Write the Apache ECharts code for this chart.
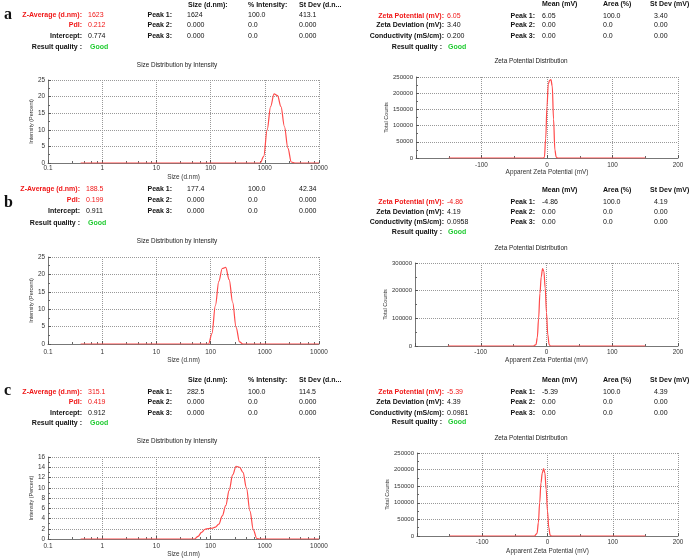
<!DOCTYPE html>
<html><head><meta charset="utf-8">
<script src="https://cdn.jsdelivr.net/npm/echarts@6/dist/echarts.min.js"></script>
<style>html,body{margin:0;padding:0;background:#fff}#c{width:693px;height:558px}</style>
</head><body><div id="c"></div>
<script>
// ---------- data ----------
const sizeA = [[0.4,0],[824.5,0],[955,2],[1106,10],[1280,17],[1482,20.8],[1716,20.3],[1988,17],[2302,11],[2665,4.5],[3086,0.3],[3574,0],[10000,0]];
const sizeB = [[0.4,0],[91.4,0],[105.8,3],[122.5,11],[141.8,18],[164.2,21.7],[190.1,22],[220.2,18.5],[255,12],[295.3,4.8],[342,0.6],[396,0],[10000,0]];
const sizeC = [[0.4,0],[50.7,0],[58.7,0.5],[68,1.3],[78.8,1.9],[91.4,2.05],[105.8,2.1],[122.5,2.3],[141.8,2.9],[164.2,4.5],[190.1,6.5],[220.2,9.5],[255,12.5],[295.3,14.2],[342,14],[396,13],[458.5,10],[531,5.5],[615,1.8],[712,0.1],[824.5,0],[10000,0]];
const zetaA = [[-150,0],[-6,0],[-4,2000],[-2,60000],[0,160000],[2,228000],[4,240000],[6,242000],[8,222000],[10,120000],[12,25000],[14,3000],[16,0],[150,0]];
const zetaB = [[-150,0],[-20,0],[-16,5000],[-14,30000],[-12,100000],[-10,190000],[-8,250000],[-6,280000],[-4,270000],[-2,210000],[0,120000],[2,40000],[4,5000],[6,0],[150,0]];
const zetaC = [[-150,0],[-20,0],[-16,8000],[-14,40000],[-12,100000],[-10,160000],[-8,190000],[-6,203000],[-4,190000],[-2,140000],[0,75000],[2,25000],[4,3000],[6,0],[150,0]];

const sizeYMax = [25, 25, 16];
const sizeYStep = [5, 5, 2];
const zetaYMax = [250000, 300000, 250000];
const zetaYStep = [50000, 100000, 50000];

const rowLetters = ['a', 'b', 'c'];
const sizeLabels = ['Z-Average (d.nm):', 'PdI:', 'Intercept:', 'Result quality :'];
const sizeHeaders = ['Size (d.nm):', '% Intensity:', 'St Dev (d.n...'];
const peakLabels = ['Peak 1:', 'Peak 2:', 'Peak 3:'];
const sizeValuesA = ['1623', '0.212', '0.774', 'Good'];
const sizeValuesB = ['188.5', '0.199', '0.911', 'Good'];
const sizeValuesC = ['315.1', '0.419', '0.912', 'Good'];
const sizePeaksA = [['1624', '100.0', '413.1'], ['0.000', '0.0', '0.000'], ['0.000', '0.0', '0.000']];
const sizePeaksB = [['177.4', '100.0', '42.34'], ['0.000', '0.0', '0.000'], ['0.000', '0.0', '0.000']];
const sizePeaksC = [['282.5', '100.0', '114.5'], ['0.000', '0.0', '0.000'], ['0.000', '0.0', '0.000']];
const zetaLabels = ['Zeta Potential (mV):', 'Zeta Deviation (mV):', 'Conductivity (mS/cm):', 'Result quality :'];
const zetaHeaders = ['Mean (mV)', 'Area (%)', 'St Dev (mV)'];
const zetaValuesA = ['6.05', '3.40', '0.200', 'Good'];
const zetaValuesB = ['-4.86', '4.19', '0.0958', 'Good'];
const zetaValuesC = ['-5.39', '4.39', '0.0981', 'Good'];
const zetaPeaksA = [['6.05', '100.0', '3.40'], ['0.00', '0.0', '0.00'], ['0.00', '0.0', '0.00']];
const zetaPeaksB = [['-4.86', '100.0', '4.19'], ['0.00', '0.0', '0.00'], ['0.00', '0.0', '0.00']];
const zetaPeaksC = [['-5.39', '100.0', '4.39'], ['0.00', '0.0', '0.00'], ['0.00', '0.0', '0.00']];

// ---------- layout ----------
const F = '"Liberation Sans", Arial, sans-serif';
const RED = '#f01818', GREEN = '#22cc33', INK = '#111', AX = '#333';
const LINE = '#ff4a4a';

const sizeGrids = [
  {left: 48, top: 80, width: 271, height: 83},
  {left: 48, top: 257, width: 271, height: 87},
  {left: 48, top: 457, width: 271, height: 83}
];
const zetaGrids = [
  {left: 416, top: 77, width: 262, height: 81},
  {left: 415, top: 263, width: 263, height: 83},
  {left: 417, top: 453, width: 261, height: 83}
];
const sizeLabMargin = [2, 5, 4], zetaLabMargin = [4, 3, 3];
const sizeNameGap = [11, 13, 12], zetaNameGap = [11, 11, 12];
const sizeTitleY = [65, 241, 441], zetaTitleY = [61, 248, 438];

const leftTab = [
  {letterY: 14.5, headY: 5, rows: [15, 25, 36, 47.5], lx: 82, vx: 88},
  {letterY: 202.5, headY: null, rows: [189, 200, 211, 223], lx: 80, vx: 86},
  {letterY: 390.5, headY: 380, rows: [392, 402, 413, 423], lx: 82, vx: 88}
];
const rightTab = [
  {headY: 4.5, rows: [16, 25.5, 36, 47]},
  {headY: 190, rows: [202, 212, 222, 232]},
  {headY: 380, rows: [392, 402, 413, 422]}
];

const sizeData = [sizeA, sizeB, sizeC];
const zetaData = [zetaA, zetaB, zetaC];
const sizeVals = [sizeValuesA, sizeValuesB, sizeValuesC];
const sizePeaks = [sizePeaksA, sizePeaksB, sizePeaksC];
const zetaVals = [zetaValuesA, zetaValuesB, zetaValuesC];
const zetaPeaks = [zetaPeaksA, zetaPeaksB, zetaPeaksC];

function T(text, x, y, o) {
  o = o || {};
  return {type: 'text', x: x, y: y, silent: true, style: {
    text: text, fill: o.fill || INK, align: o.align || 'left', verticalAlign: 'middle',
    font: (o.bold === false ? '' : 'bold ') + (o.size || 7) + 'px ' + (o.family || F)
  }};
}

const graphics = [];
for (let r = 0; r < 3; r++) {
  const L = leftTab[r], R = rightTab[r];
  graphics.push(T(rowLetters[r], 4, L.letterY, {size: 16, family: '"Liberation Serif", "Times New Roman", serif'}));
  sizeLabels.forEach((lab, i) => {
    const red = i < 2;
    graphics.push(T(lab, L.lx, L.rows[i], {align: 'right', fill: red ? RED : INK}));
    const v = sizeVals[r][i];
    graphics.push(T(v, L.vx + (i === 3 ? 2 : 0), L.rows[i], {fill: i === 3 ? GREEN : (red ? RED : INK), bold: i === 3}));
  });
  if (L.headY !== null) {
    [188, 248, 299].forEach((x, j) => graphics.push(T(sizeHeaders[j], x, L.headY)));
  }
  peakLabels.forEach((p, i) => {
    graphics.push(T(p, 172, L.rows[i], {align: 'right'}));
    [187, 248, 299].forEach((x, j) => graphics.push(T(sizePeaks[r][i][j], x, L.rows[i], {bold: false})));
  });
  zetaLabels.forEach((lab, i) => {
    const red = i === 0;
    graphics.push(T(lab, i === 3 ? 442 : 444, R.rows[i], {align: 'right', fill: red ? RED : INK}));
    graphics.push(T(zetaVals[r][i], i === 3 ? 448 : 447, R.rows[i], {fill: i === 3 ? GREEN : (red ? RED : INK), bold: i === 3}));
  });
  [542, 603, 650].forEach((x, j) => graphics.push(T(zetaHeaders[j], x, R.headY)));
  peakLabels.forEach((p, i) => {
    graphics.push(T(p, 535, R.rows[i], {align: 'right'}));
    [542, 603, 654].forEach((x, j) => graphics.push(T(zetaPeaks[r][i][j], x, R.rows[i], {bold: false})));
  });
  graphics.push(T('Size Distribution by Intensity', 177, sizeTitleY[r], {align: 'center', bold: false, size: 6.4, fill: '#222'}));
  graphics.push(T('Zeta Potential Distribution', 531, zetaTitleY[r], {align: 'center', bold: false, size: 6.4, fill: '#222'}));
}

const grid = [], xAxis = [], yAxis = [], series = [];
function axisBase() {
  return {
    axisLine: {show: true, onZero: false, lineStyle: {color: '#777', width: 1}},
    axisTick: {show: true, inside: true, length: 3, lineStyle: {color: '#555'}},
    splitLine: {show: true, lineStyle: {type: 'dotted', color: '#999', width: 1}},
    nameLocation: 'middle',
    nameTextStyle: {fontSize: 6.4, color: AX, fontFamily: F}
  };
}
for (let r = 0; r < 3; r++) {
  let gi = grid.length;
  grid.push(Object.assign({containLabel: false}, sizeGrids[r]));
  xAxis.push(Object.assign(axisBase(), {
    gridIndex: gi, type: 'log', logBase: 10, min: 0.1, max: 10000,
    name: 'Size (d.nm)', nameGap: sizeNameGap[r],
    minorTick: {show: true, splitNumber: 5, length: 2, lineStyle: {color: '#666'}},
    axisLabel: {fontSize: 6.4, color: AX, fontFamily: F, margin: sizeLabMargin[r],
      formatter: v => String(+(+v).toPrecision(6))}
  }));
  yAxis.push(Object.assign(axisBase(), {
    gridIndex: gi, type: 'value', min: 0, max: sizeYMax[r], interval: sizeYStep[r],
    name: 'Intensity (Percent)', nameGap: 13, nameTextStyle: {fontSize: 5.5, color: AX, fontFamily: F},
    minorTick: {show: true, splitNumber: 2, length: 2, lineStyle: {color: '#666'}},
    axisLabel: {fontSize: 6.4, color: AX, fontFamily: F, margin: 3}
  }));
  series.push({type: 'line', xAxisIndex: gi, yAxisIndex: gi, data: sizeData[r], showSymbol: false,
    smooth: 0.35, smoothMonotone: 'x', lineStyle: {color: LINE, width: 1.2}, itemStyle: {color: LINE}, animation: false});
  gi = grid.length;
  grid.push(Object.assign({containLabel: false}, zetaGrids[r]));
  xAxis.push(Object.assign(axisBase(), {
    gridIndex: gi, type: 'value', min: -200, max: 200, interval: 100,
    name: 'Apparent Zeta Potential (mV)', nameGap: zetaNameGap[r],
    minorTick: {show: true, splitNumber: 2, length: 2, lineStyle: {color: '#666'}},
    axisLabel: {fontSize: 6.4, color: AX, fontFamily: F, margin: zetaLabMargin[r],
      formatter: v => (v === -200 ? '' : String(v))}
  }));
  yAxis.push(Object.assign(axisBase(), {
    gridIndex: gi, type: 'value', min: 0, max: zetaYMax[r], interval: zetaYStep[r],
    name: 'Total Counts', nameGap: 26, nameTextStyle: {fontSize: 5.5, color: AX, fontFamily: F},
    minorTick: {show: true, splitNumber: 2, length: 2, lineStyle: {color: '#666'}},
    axisLabel: {fontSize: 6, color: AX, fontFamily: F, margin: 3, formatter: v => String(v)}
  }));
  series.push({type: 'line', xAxisIndex: gi, yAxisIndex: gi, data: zetaData[r], showSymbol: false,
    smooth: 0.35, smoothMonotone: 'x', lineStyle: {color: LINE, width: 1.2}, itemStyle: {color: LINE}, animation: false});
}

const chart = echarts.init(document.getElementById('c'));
chart.setOption({
  backgroundColor: '#fff',
  animation: false,
  grid: grid, xAxis: xAxis, yAxis: yAxis, series: series,
  graphic: graphics
});
</script>
</body></html>
